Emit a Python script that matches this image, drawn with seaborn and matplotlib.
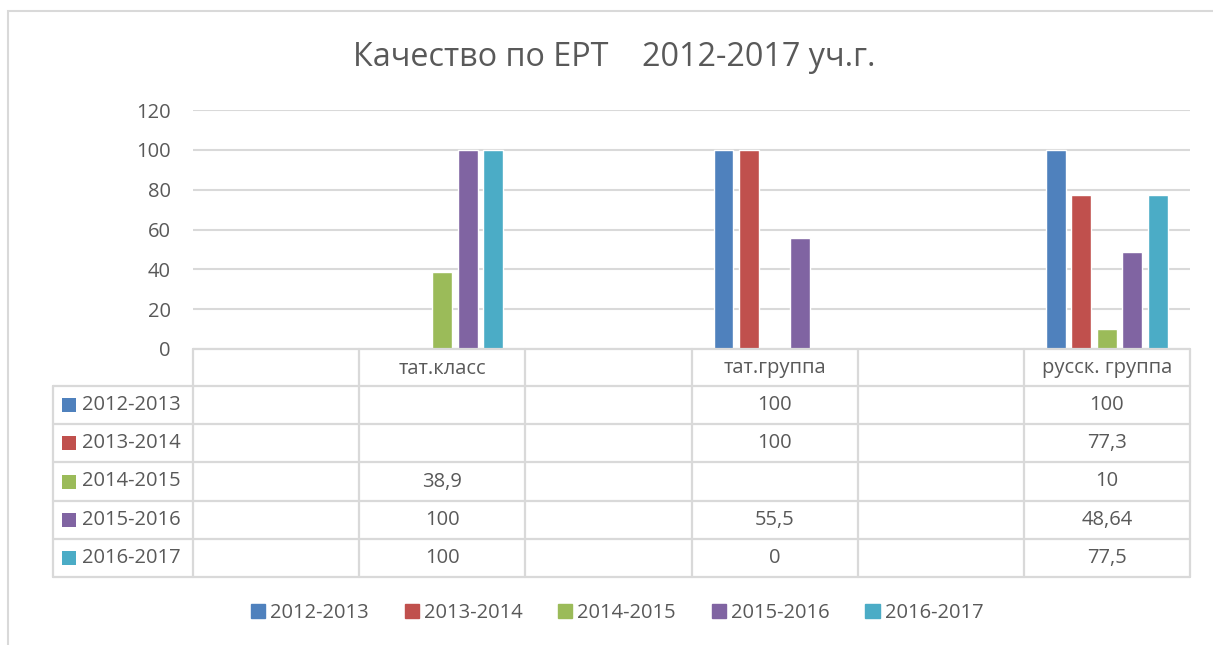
import numpy as np
import pandas as pd
import matplotlib
matplotlib.use('Agg')
import matplotlib.pyplot as plt
import matplotlib.patches as mpatches
import seaborn as sns

# categories of the x axis (blank columns as in the original table)
categories = ['', 'тат.класс', ' ', 'тат.группа', '  ', 'русск. группа']
seasons = ['2012-2013', '2013-2014', '2014-2015', '2015-2016', '2016-2017']

# values per season for тат.класс, тат.группа, русск. группа (None = empty cell)
real_cats = ['тат.класс', 'тат.группа', 'русск. группа']
v_2012 = [None, 100, 100]
v_2013 = [None, 100, 77.3]
v_2014 = [38.9, None, 10]
v_2015 = [100, 55.5, 48.64]
v_2016 = [100, 0, 77.5]
values = [v_2012, v_2013, v_2014, v_2015, v_2016]

colors = ['#4F81BD', '#C0504D', '#9BBB59', '#8064A2', '#4BACC6']
title = 'Качество по ЕРТ    2012-2017 уч.г.'

rows = []
for s, vals in zip(seasons, values):
    for c, v in zip(real_cats, vals):
        rows.append({'cat': c, 'season': s, 'val': np.nan if v is None else v})
df = pd.DataFrame(rows)

sns.set_theme(style='white')
plt.rcParams['font.family'] = ['Open Sans', 'DejaVu Sans']
TXT = '#595959'
GRID = '#D9D9D9'

W, H = 1213, 645
fig = plt.figure(figsize=(W / 100, H / 100), dpi=100)


def fx(x):
    return x / W


def fy(y):
    return 1 - y / H


# outer chart frame (continues past the right / bottom edge)
fig.patches.append(mpatches.Rectangle((fx(8), fy(700)), fx(1300), fy(11) - fy(700),
                                      transform=fig.transFigure, fill=False,
                                      edgecolor=GRID, lw=1.5))

ax_l, ax_r, ax_t, ax_b = 193, 1190, 110, 349
ax = fig.add_axes([fx(ax_l), fy(ax_b), fx(ax_r - ax_l), fy(ax_t) - fy(ax_b)])
sns.barplot(data=df, x='cat', y='val', hue='season', order=categories,
            hue_order=seasons, palette=colors, width=0.768, gap=0.22,
            errorbar=None, legend=False, ax=ax, saturation=1)
ax.set_xlim(-0.5, len(categories) - 0.5)
ax.set_ylim(0, 120)
ax.set_yticks(range(0, 121, 20))
ax.set_xticks([])
ax.set_xlabel('')
ax.set_ylabel('')
ax.tick_params(axis='y', length=0, pad=16, labelsize=14.5, labelcolor=TXT)
ax.yaxis.grid(True, color=GRID, lw=1.5)
ax.set_axisbelow(True)
for sp in ax.spines.values():
    sp.set_visible(False)

# data table under the chart
col_edges = [ax_l + (ax_r - ax_l) * i / len(categories) for i in range(len(categories) + 1)]
row_edges = [349, 386, 424, 462, 501, 539, 577]
left_x = 53
lkw = dict(color=GRID, lw=1.6, transform=fig.transFigure)

# horizontal lines
fig.add_artist(plt.Line2D([fx(ax_l), fx(ax_r)], [fy(row_edges[0])] * 2, **lkw))
for y in row_edges[1:]:
    fig.add_artist(plt.Line2D([fx(left_x), fx(ax_r)], [fy(y)] * 2, **lkw))
# vertical lines
fig.add_artist(plt.Line2D([fx(left_x)] * 2, [fy(row_edges[1]), fy(row_edges[-1])], **lkw))
for x in col_edges:
    fig.add_artist(plt.Line2D([fx(x)] * 2, [fy(row_edges[0]), fy(row_edges[-1])], **lkw))

tkw = dict(ha='center', va='center', fontsize=14.5, color=TXT)
for i, c in enumerate(categories):
    cx = (col_edges[i] + col_edges[i + 1]) / 2
    fig.text(fx(cx), fy((row_edges[0] + row_edges[1]) / 2 + 1), c, **tkw)


def fmt(v):
    return '' if v is None else f'{v:g}'.replace('.', ',')


for r, (s, vals, col) in enumerate(zip(seasons, values, colors)):
    cy = (row_edges[r + 1] + row_edges[r + 2]) / 2
    fig.patches.append(mpatches.Rectangle((fx(62), fy(cy + 7)), fx(14), fy(cy - 7) - fy(cy + 7),
                                          transform=fig.transFigure, color=col, lw=0))
    fig.text(fx(82), fy(cy), s, ha='left', va='center', fontsize=14.5, color=TXT)
    for c, v in zip(real_cats, vals):
        i = categories.index(c)
        cx = (col_edges[i] + col_edges[i + 1]) / 2
        fig.text(fx(cx), fy(cy), fmt(v), **tkw)

fig.text(fx(614), fy(57), title, ha='center', va='center', fontsize=23.3, color=TXT)

handles = [mpatches.Patch(color=c, label=s) for s, c in zip(seasons, colors)]
fig.legend(handles=handles, loc='center', bbox_to_anchor=(fx(617), fy(613)), ncol=5,
           frameon=False, fontsize=14.5, handlelength=0.7, handleheight=0.7,
           handletextpad=0.25, columnspacing=1.78, labelcolor=TXT)

fig.savefig('out.png', dpi=100)
